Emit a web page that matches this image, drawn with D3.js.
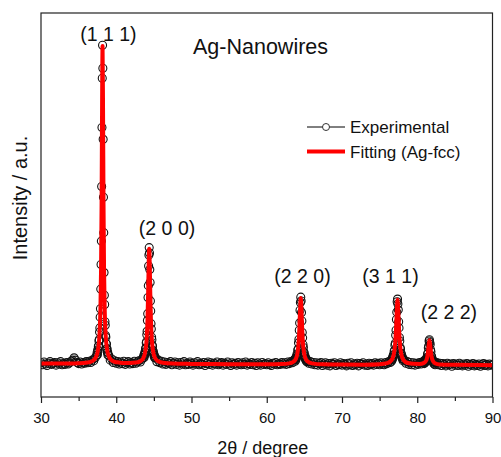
<!DOCTYPE html>
<html>
<head>
<meta charset="utf-8">
<script src="https://cdn.jsdelivr.net/npm/d3@7"></script>
<style>
  body { margin: 0; background: #fff; }
  svg text { font-family: "Liberation Sans", Arial, sans-serif; fill: #111; }
</style>
</head>
<body>
<svg width="501" height="457"></svg>
<script>
// Experimental scan in segments (start 2θ, step, intensities in a.u.)
const expA = [8.9, 8.4, 9.1, 8.6, 8.2, 8.8, 9.2, 8.5, 8.7, 9.0, 8.3, 8.9, 8.6, 9.2, 8.4, 8.8, 8.5, 9.0, 8.6, 8.9,
  9.3, 9.6, 10.2, 9.6, 9.0, 8.7, 9.1, 8.6, 9.0, 8.8, 9.2, 8.9, 9.3, 9.0, 9.6, 9.4, 10.2, 10.9];
const expPeak111 = [11.6, 11.0, 12.3, 12.0, 13.2, 13.3, 14.6, 15.0, 16.9, 18.0, 20.8, 23.0, 28.1, 34.5, 40.6, 54.8, 70.2, 83.0,
  91.6, 85.6, 67.1, 52.0, 42.8, 32.4, 26.5, 24.1, 19.6, 18.7, 16.0, 15.6, 13.9, 13.8, 12.5, 12.6, 11.6, 11.7, 10.9];
const expB = [10.9, 9.6, 9.9, 9.0, 9.4, 8.8, 9.2, 8.6, 9.1, 8.7, 9.3, 8.5, 8.9, 9.2, 8.6, 9.0, 8.7, 9.3, 8.8, 9.1,
  9.4, 9.1, 9.8, 10.3];
const expPeak200 = [10.8, 10.3, 11.2, 10.9, 11.8, 11.6, 12.7, 12.6, 14.1, 14.4, 16.2, 17.1, 19.9, 21.7, 25.9, 29.0, 34.1, 37.0,
  38.9, 37.5, 33.2, 29.8, 25.0, 22.4, 19.1, 17.7, 15.6, 14.9, 13.5, 13.2, 12.1, 12.0, 11.3, 11.4, 10.7, 10.9, 10.2];
const expC = [10.3, 9.2, 9.6, 8.9, 9.3, 8.6, 9.1, 8.5, 9.0, 8.7, 9.2, 8.4, 8.8, 9.1, 8.5, 8.9, 8.3, 9.0, 8.6, 9.2,
  8.4, 8.8, 8.5, 9.1, 8.7, 8.3, 8.9, 8.6, 9.2, 8.4, 8.8, 8.5, 9.0, 8.2, 8.7, 9.1, 8.5, 8.9, 8.3, 8.8,
  8.6, 9.1, 8.4, 8.7, 9.0, 8.3, 8.8, 8.5, 9.1, 8.6, 8.2, 8.9, 8.5, 8.8, 8.3, 9.0, 8.6, 8.4, 8.9, 8.5,
  9.1, 8.3, 8.7, 8.5, 9.0, 8.4, 8.8, 8.2, 8.9, 8.6, 8.3, 9.0, 8.5, 8.7, 8.4, 8.9, 8.5, 8.2, 8.8, 8.6,
  9.0, 8.4, 8.7, 8.5, 9.0, 8.6, 8.9, 8.5, 9.1, 8.7, 9.2, 8.9, 9.6];
const expPeak220 = [9.8, 9.3, 10.1, 9.7, 10.5, 10.2, 11.2, 11.0, 12.2, 12.5, 14.1, 15.0, 17.4, 19.3, 22.6, 24.6,
  26.0, 25.0, 22.0, 19.8, 16.8, 15.4, 13.6, 12.9, 11.7, 11.5, 10.6, 10.8, 9.9, 10.2, 9.5, 9.8, 9.2];
const expD = [9.6, 8.8, 9.2, 8.6, 9.0, 8.4, 8.9, 8.3, 8.7, 9.0, 8.2, 8.6, 8.9, 8.3, 8.7, 8.1, 8.8, 8.5, 8.9, 8.2,
  8.6, 8.4, 8.9, 8.3, 8.7, 8.5, 8.1, 8.8, 8.4, 8.9, 8.2, 8.6, 8.4, 8.8, 8.1, 8.7, 8.5, 8.9, 8.3, 8.6,
  8.2, 8.8, 8.4, 8.7, 8.3, 8.9, 8.5, 8.8, 8.4, 8.9, 8.6, 8.4, 9.0, 8.7, 9.2, 9.0];
const expPeak311 = [9.3, 9.9, 9.7, 10.4, 10.2, 11.0, 10.9, 11.9, 12.1, 13.5, 14.0, 16.1, 17.4, 20.2, 22.1, 24.8,
  25.5, 24.2, 22.7, 19.6, 18.0, 15.5, 14.6, 12.9, 12.5, 11.4, 11.3, 10.5, 10.6, 9.9, 10.1, 9.4, 9.8];
const expE = [9.6, 8.8, 9.2, 8.5, 9.0, 8.4, 8.9, 8.3, 8.8, 8.5, 9.0, 8.6, 9.1];
const expPeak222 = [8.9, 9.4, 8.7, 9.3, 8.9, 9.6, 9.2, 9.8, 9.5, 10.3, 10.2, 11.2, 11.4, 12.8, 13.3, 14.6,
  14.9, 14.2, 13.7, 12.3, 11.8, 10.7, 10.5, 9.7, 9.8, 9.2, 9.4, 8.8, 9.2, 8.6, 9.0, 8.4, 8.9];
const expF = [9.0, 8.4, 8.8, 8.2, 8.7, 8.5, 8.1, 8.8, 8.4, 8.6, 8.0, 8.7, 8.3, 8.6, 8.2, 8.8, 8.4, 8.1, 8.6, 8.3,
  8.7, 8.0, 8.5, 8.3, 8.7, 8.1, 8.5, 8.2, 8.6, 8.0, 8.4, 8.7, 8.2, 8.5, 8.1, 8.6, 8.3, 8.4];

const expSegments = [
  { start: 30.0, step: 0.2, values: expA },
  { start: 37.46, step: 0.04, values: expPeak111 },
  { start: 39.0, step: 0.2, values: expB },
  { start: 43.66, step: 0.04, values: expPeak200 },
  { start: 45.2, step: 0.2, values: expC },
  { start: 63.72, step: 0.05, values: expPeak220 },
  { start: 65.4, step: 0.2, values: expD },
  { start: 76.58, step: 0.05, values: expPeak311 },
  { start: 78.3, step: 0.2, values: expE },
  { start: 80.82, step: 0.05, values: expPeak222 },
  { start: 82.6, step: 0.2, values: expF }
];

// Fitted Ag-fcc profile
const fitTheta = [30.0, 32.0, 34.0, 35.0, 36.0, 36.5, 37.0, 37.3, 37.5, 37.7, 37.8, 37.9, 37.98, 38.05, 38.115, 38.18,
  38.245, 38.31, 38.38, 38.46, 38.56, 38.66, 38.86, 39.06, 39.36, 39.86, 40.36, 41.0, 41.8, 42.6, 43.2, 43.6,
  43.9, 44.05, 44.15, 44.24, 44.31, 44.38, 44.45, 44.52, 44.61, 44.71, 44.86, 45.16, 45.56, 46.2, 47.5,
  50.0, 55.0, 60.0, 62.0, 63.0, 63.6, 63.92, 64.12, 64.22, 64.32, 64.42, 64.52, 64.62, 64.72, 64.82, 64.92,
  65.12, 65.44, 66.0, 67.5, 70.0, 73.0, 75.0, 76.0, 76.6, 76.9, 77.05, 77.16, 77.27, 77.38, 77.49, 77.6,
  77.71, 77.86, 78.16, 78.76, 79.5, 80.3, 80.9, 81.22, 81.32, 81.42, 81.52, 81.62, 81.72, 81.82, 81.92,
  82.02, 82.34, 83.0, 85.0, 90.0];
const fitIntensity = [8.75, 8.72, 8.7, 8.78, 8.93, 9.1, 9.6, 10.4, 11.5, 14.3, 17.3, 23.3, 33.2, 50.0, 74.8, 91.4,
  74.8, 50.0, 33.2, 23.3, 17.3, 14.3, 11.5, 10.4, 9.6, 9.1, 9.0, 8.86, 8.85, 8.97, 9.33, 10.15,
  12.3, 15.5, 20.0, 27.3, 34.7, 38.6, 34.7, 27.3, 20.0, 15.5, 12.3, 10.15, 9.3, 8.9, 8.7,
  8.62, 8.55, 8.52, 8.58, 8.75, 9.23, 10.2, 11.9, 13.8, 17.1, 22.3, 25.8, 22.3, 17.1, 13.8, 11.9,
  10.2, 9.23, 8.75, 8.5, 8.45, 8.42, 8.55, 8.82, 9.64, 11.3, 13.6, 16.85, 21.9, 25.3, 21.9, 16.85,
  13.6, 11.3, 9.64, 8.85, 8.64, 8.6, 8.88, 9.65, 10.35, 11.6, 13.5, 14.8, 13.5, 11.6, 10.35,
  9.65, 8.81, 8.48, 8.4, 8.3];

// Peak labels
const peakLabels = ["(1 1 1)", "(2 0 0)", "(2 2 0)", "(3 1 1)", "(2 2 2)"];
const peakLabelTheta = [38.95, 46.75, 64.75, 76.45, 84.2];
const peakLabelInt = [92.6, 42.2, 29.6, 29.6, 20.2];

const xTicks = [30, 40, 50, 60, 70, 80, 90];
const xMinorTicks = [35, 45, 55, 65, 75, 85];

const margin = { top: 13, right: 8.5, bottom: 60, left: 41 };
const width = 501 - margin.left - margin.right;
const height = 457 - margin.top - margin.bottom;

const svg = d3.select("svg");
const g = svg.append("g")
  .attr("transform", "translate(" + margin.left + "," + margin.top + ")");

const x = d3.scaleLinear().domain([30, 90]).range([0, width]);
const y = d3.scaleLinear().domain([0, 100]).range([height, 0]);

// clip to the frame
svg.append("defs").append("clipPath").attr("id", "plot-clip")
  .append("rect").attr("width", width).attr("height", height);

const expData = [];
expSegments.forEach(s => {
  s.values.forEach((v, i) => expData.push({ t: s.start + i * s.step, v: v }));
});
const fitData = fitTheta.map((t, i) => ({ t: t, v: fitIntensity[i] }));

const plot = g.append("g").attr("clip-path", "url(#plot-clip)");

// experimental: line + hollow circles
plot.append("path")
  .datum(expData)
  .attr("fill", "none")
  .attr("stroke", "#000")
  .attr("stroke-width", 1.2)
  .attr("d", d3.line().x(d => x(d.t)).y(d => y(d.v)));

plot.selectAll(".pt")
  .data(expData)
  .enter().append("circle")
  .attr("class", "pt")
  .attr("cx", d => x(d.t))
  .attr("cy", d => y(d.v))
  .attr("r", 4)
  .attr("fill", "none")
  .attr("stroke", "#111")
  .attr("stroke-width", 1.1);

// fitted curve
plot.append("path")
  .datum(fitData)
  .attr("fill", "none")
  .attr("stroke", "#ff0000")
  .attr("stroke-width", 4)
  .attr("stroke-linejoin", "round")
  .attr("d", d3.line().x(d => x(d.t)).y(d => y(d.v)).curve(d3.curveMonotoneX));

// frame
g.append("rect")
  .attr("width", width)
  .attr("height", height)
  .attr("fill", "none")
  .attr("stroke", "#222")
  .attr("stroke-width", 1.2);

// x axis
const xAxis = g.append("g")
  .attr("transform", "translate(0," + height + ")")
  .call(d3.axisBottom(x).tickValues(xTicks).tickSize(6).tickPadding(9).tickFormat(d3.format("d")));
xAxis.select(".domain").remove();
xAxis.selectAll("line").attr("stroke", "#222").attr("stroke-width", 1.2);
xAxis.selectAll("text").style("font-size", "15px").attr("fill", "#111");

const xMinor = g.append("g")
  .attr("transform", "translate(0," + height + ")")
  .call(d3.axisBottom(x).tickValues(xMinorTicks).tickSize(4).tickFormat(""));
xMinor.select(".domain").remove();
xMinor.selectAll("line").attr("stroke", "#222").attr("stroke-width", 1.2);

// axis titles
svg.append("text")
  .attr("x", margin.left + x(60) - 4)
  .attr("y", 454)
  .attr("text-anchor", "middle")
  .style("font-size", "18px")
  .text("2θ / degree");

svg.append("text")
  .attr("transform", "translate(27," + 198 + ") rotate(-90)")
  .attr("text-anchor", "middle")
  .style("font-size", "20px")
  .text("Intensity / a.u.");

// title inside plot
g.append("text")
  .attr("x", 152)
  .attr("y", 41)
  .style("font-size", "21.5px")
  .text("Ag-Nanowires");

// peak labels
g.selectAll(".hkl")
  .data(peakLabels)
  .enter().append("text")
  .attr("class", "hkl")
  .attr("x", (d, i) => x(peakLabelTheta[i]))
  .attr("y", (d, i) => y(peakLabelInt[i]))
  .attr("text-anchor", "middle")
  .style("font-size", "19.5px")
  .text(d => d);

// legend
const legend = g.append("g").attr("transform", "translate(266,114)");
legend.append("line")
  .attr("x1", 0).attr("x2", 38).attr("y1", 0).attr("y2", 0)
  .attr("stroke", "#000").attr("stroke-width", 1);
legend.append("circle")
  .attr("cx", 19).attr("cy", 0).attr("r", 3.5)
  .attr("fill", "#fff").attr("stroke", "#333").attr("stroke-width", 1);
legend.append("text")
  .attr("x", 43).attr("y", 6)
  .style("font-size", "17px")
  .text("Experimental");
legend.append("line")
  .attr("x1", 0).attr("x2", 38).attr("y1", 24.5).attr("y2", 24.5)
  .attr("stroke", "#ff0000").attr("stroke-width", 4);
legend.append("text")
  .attr("x", 43).attr("y", 30.5)
  .style("font-size", "17px")
  .text("Fitting (Ag-fcc)");
</script>
</body>
</html>
